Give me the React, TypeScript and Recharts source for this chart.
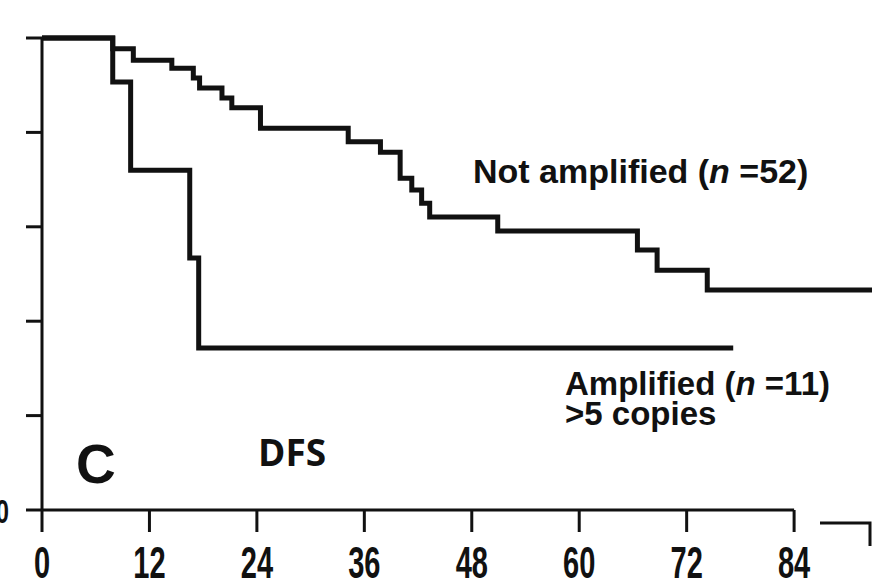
import { LineChart, Line, XAxis, YAxis, ReferenceLine } from 'recharts'

// months since surgery, disease-free survival fraction
const notAmpTimes = [0, 7.9, 10.2, 14.5, 16.9, 17.6, 20.1, 21.2, 24.4, 34.2, 37.8, 40.0, 41.3, 42.4, 43.3, 50.9, 66.5, 68.7, 74.3, 92.7]
const notAmpSurv = [1.0, 0.977, 0.953, 0.936, 0.915, 0.894, 0.873, 0.852, 0.809, 0.78, 0.758, 0.703, 0.678, 0.65, 0.621, 0.591, 0.551, 0.508, 0.466, 0.466]

const ampTimes = [0, 7.9, 9.9, 16.5, 17.5, 77.2]
const ampSurv = [1.0, 0.907, 0.72, 0.534, 0.343, 0.343]

const xTicks = [0, 12, 24, 36, 48, 60, 72, 84]
const yTicks = [0, 0.2, 0.4, 0.6, 0.8, 1.0]

const notAmpData = notAmpTimes.map((t, i) => ({ t, s: notAmpSurv[i] }))
const ampData = ampTimes.map((t, i) => ({ t, s: ampSurv[i] }))

const INK = '#111'
const SANS = "'Liberation Sans', Arial, sans-serif"

// the scan uses a condensed bold face for the axis numbers, squeeze Liberation Sans instead
function XTick({ x, y, payload }: any) {
  return (
    <text
      transform={`translate(${x}, ${y + 44}) scale(0.66, 1)`}
      textAnchor="middle"
      fontFamily={SANS}
      fontWeight={700}
      fontSize={44}
      fill={INK}
    >
      {payload.value}
    </text>
  )
}

function YTick({ y, payload }: any) {
  if (payload.value !== 0) return <g />
  return (
    <text
      transform={`translate(9, ${y + 13}) scale(0.7, 1)`}
      textAnchor="end"
      fontFamily={SANS}
      fontWeight={700}
      fontSize={34}
      fill={INK}
    >
      0
    </text>
  )
}

export default function App() {
  return (
    <div style={{ position: 'absolute', left: 0, top: 0, width: 872, height: 586, background: '#fff' }}>
      <LineChart width={872} height={586} margin={{ top: 38, right: 0, left: 0, bottom: 0 }}>
        <XAxis
          type="number"
          dataKey="t"
          domain={[0, 92.7]}
          ticks={xTicks}
          axisLine={false}
          tickSize={22}
          tickLine={{ stroke: INK, strokeWidth: 3 }}
          tick={<XTick />}
          height={76}
        />
        <YAxis
          type="number"
          domain={[0, 1]}
          ticks={yTicks}
          width={42}
          tickSize={16}
          axisLine={{ stroke: INK, strokeWidth: 3 }}
          tickLine={{ stroke: INK, strokeWidth: 3 }}
          tick={<YTick />}
        />
        <ReferenceLine segment={[{ x: 0, y: 0 }, { x: 84, y: 0 }]} stroke={INK} strokeWidth={3} />
        <Line data={notAmpData} dataKey="s" type="stepAfter" stroke={INK} strokeWidth={5} dot={false} isAnimationActive={false} />
        <Line data={ampData} dataKey="s" type="stepAfter" stroke={INK} strokeWidth={5} dot={false} isAnimationActive={false} />
      </LineChart>
      <svg width={872} height={586} style={{ position: 'absolute', left: 0, top: 0, pointerEvents: 'none' }}>
        <text x={473} y={183} fontFamily={SANS} fontWeight={700} fontSize={34} fill={INK}>
          Not amplified (<tspan fontStyle="italic">n</tspan> =52)
        </text>
        <text x={565} y={395} fontFamily={SANS} fontWeight={700} fontSize={33} fill={INK}>
          Amplified (<tspan fontStyle="italic">n</tspan> =11)
          <tspan x={565} dy={30}>&gt;5 copies</tspan>
        </text>
        <text x={76} y={483} fontFamily={SANS} fontWeight={700} fontSize={55} fill={INK}>
          C
        </text>
        <text x={258} y={466} fontFamily="'Open Sans', 'Noto Sans', sans-serif" fontWeight={700} fontSize={37} fill={INK}>
          DFS
        </text>
        <polyline points="820,523 870,523 870,546" fill="none" stroke={INK} strokeWidth={3} />
      </svg>
    </div>
  )
}
